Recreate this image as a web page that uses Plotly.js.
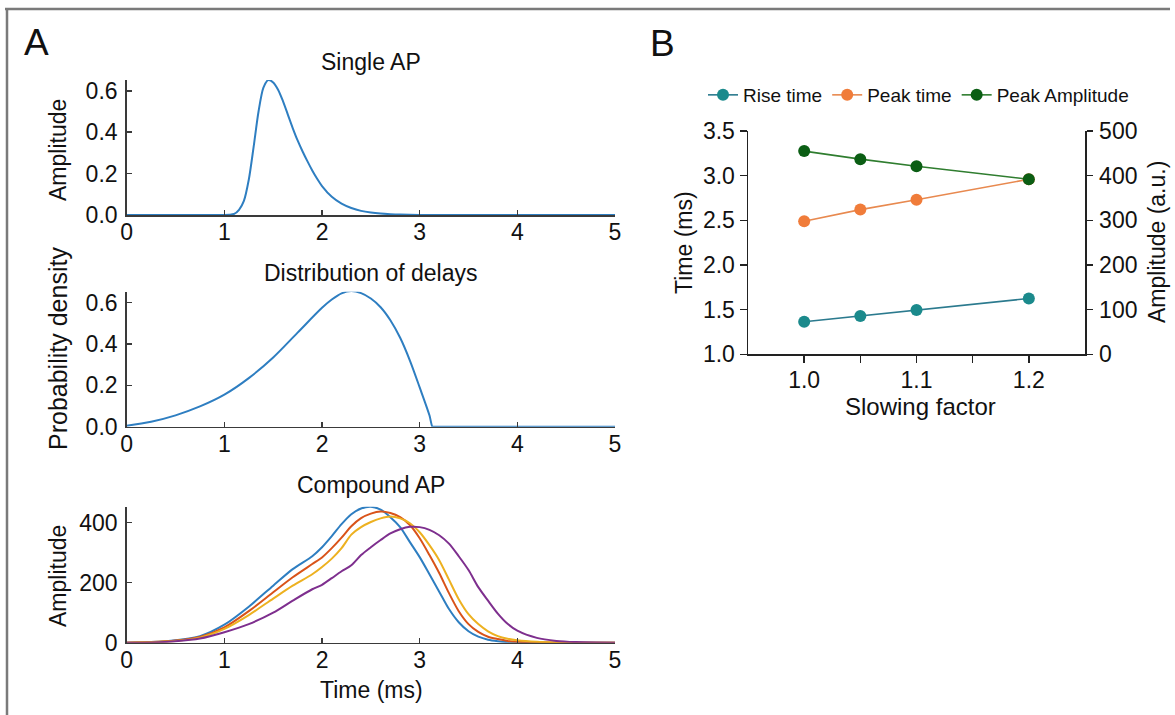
<!DOCTYPE html>
<html>
<head>
<meta charset="utf-8">
<script src="https://cdn.plot.ly/plotly-3.0.1.min.js"></script>
<style>
  html, body { margin: 0; padding: 0; background: #ffffff; }
  #chart { width: 1175px; height: 715px; }
</style>
</head>
<body>
<div id="chart"></div>
<script>
// ---------------- Panel A data ----------------
// Single AP
const singleT   = [0, 0.5, 1.0, 1.05, 1.1, 1.15, 1.2, 1.25, 1.3, 1.35, 1.4, 1.45, 1.5, 1.55, 1.6, 1.65, 1.7, 1.75, 1.8, 1.85, 1.9, 1.95, 2.0, 2.1, 2.2, 2.3, 2.4, 2.5, 2.6, 2.7, 2.8, 3.0, 4.0, 5.0];
const singleAmp = [0, 0, 0, 0.001, 0.005, 0.025, 0.068, 0.17, 0.33, 0.5, 0.615, 0.652, 0.64, 0.605, 0.55, 0.485, 0.42, 0.36, 0.308, 0.26, 0.215, 0.175, 0.14, 0.088, 0.055, 0.034, 0.02, 0.012, 0.007, 0.004, 0.002, 0, 0, 0];

// Distribution of delays
const delayT    = [0, 0.25, 0.5, 0.75, 1.0, 1.25, 1.5, 1.75, 2.0, 2.1, 2.2, 2.3, 2.4, 2.5, 2.6, 2.7, 2.8, 2.9, 3.0, 3.1, 3.13, 3.14, 3.2, 3.3, 4.0, 5.0];
const delayPdf  = [0.005, 0.024, 0.055, 0.098, 0.155, 0.235, 0.335, 0.455, 0.575, 0.615, 0.645, 0.656, 0.646, 0.62, 0.578, 0.515, 0.43, 0.32, 0.19, 0.055, 0, 0, 0, 0, 0, 0];

// Compound AP (four slowing factors)
const compT     = [0, 0.25, 0.5, 0.75, 1.0, 1.25, 1.5, 1.7, 1.9, 2.0, 2.1, 2.2, 2.3, 2.4, 2.5, 2.6, 2.7, 2.8, 2.9, 3.0, 3.1, 3.2, 3.3, 3.4, 3.5, 3.6, 3.7, 3.8, 3.9, 4.0, 4.2, 4.4, 4.6, 4.8, 5.0];
const compBlue  = [0, 2, 8, 22, 60, 120, 190, 245, 288, 318, 355, 395, 428, 447, 453, 443, 418, 385, 335, 285, 228, 170, 112, 68, 38, 20, 10, 5, 2, 1, 0, 0, 0, 0, 0];
const compRed   = [0, 2, 7, 19, 51, 105, 168, 218, 262, 284, 315, 350, 388, 415, 430, 437, 432, 418, 392, 348, 292, 232, 165, 105, 62, 36, 20, 12, 6, 3, 1, 0, 0, 0, 0];
const compYel   = [0, 2, 6, 17, 46, 92, 147, 190, 228, 252, 280, 315, 360, 385, 402, 414, 420, 414, 398, 368, 325, 275, 210, 145, 95, 62, 38, 22, 13, 8, 3, 1, 0, 0, 0];
const compPur   = [0, 1, 5, 14, 35, 62, 100, 140, 178, 193, 215, 238, 258, 292, 318, 342, 364, 378, 386, 385, 376, 358, 330, 288, 242, 185, 140, 97, 63, 40, 16, 6, 2, 0.5, 0];

// ---------------- Panel B data ----------------
const slowing      = [1.0, 1.05, 1.1, 1.2];
const riseTime     = [1.365, 1.43, 1.495, 1.625];
const peakTime     = [2.49, 2.62, 2.73, 2.96];
const peakAmp      = [455, 437, 421, 392];

// tick labels
const timeTicks    = [0, 1, 2, 3, 4, 5];
const ampTicks     = [0, 0.2, 0.4, 0.6];
const compTicks    = [0, 200, 400];
const slowTickVals = [1.0, 1.05, 1.1, 1.15, 1.2];
const slowTickText = ['1.0', '', '1.1', '', '1.2'];
const bTimeTicks   = [1.0, 1.5, 2.0, 2.5, 3.0, 3.5];
const bAmpTicks    = [0, 100, 200, 300, 400, 500];

// ---------------- styling ----------------
const W = 1175, H = 715;
const px = v => v / W;
const py = v => 1 - v / H;
const FONT = 'Liberation Sans, Arial, Helvetica, sans-serif';
const TXT = '#111111';
const AX = '#3a3a3a';
const FS = 23;
const cBlue = '#2e7ec1', cRed = '#d95319', cYel = '#edb120', cPur = '#7e2f8e';

const aLine = (x, y, xa, ya, color, sm) => ({
  x, y, xaxis: xa, yaxis: ya, type: 'scatter', mode: 'lines',
  line: { color, width: 2, shape: 'spline', smoothing: sm || 0.8 },
  showlegend: false, hoverinfo: 'skip', cliponaxis: false
});

const traces = [
  aLine(singleT, singleAmp, 'x', 'y', cBlue),
  aLine(delayT, delayPdf, 'x2', 'y2', cBlue, 0.9),
  aLine(compT, compBlue, 'x3', 'y3', cBlue),
  aLine(compT, compRed, 'x3', 'y3', cRed),
  aLine(compT, compYel, 'x3', 'y3', cYel),
  aLine(compT, compPur, 'x3', 'y3', cPur),
  {
    x: slowing, y: riseTime, xaxis: 'x4', yaxis: 'y4', type: 'scatter', mode: 'lines+markers',
    name: 'Rise time', line: { color: '#2b7a8e', width: 1.6 },
    marker: { color: '#1b8a8c', size: 12 }
  },
  {
    x: slowing, y: peakTime, xaxis: 'x4', yaxis: 'y4', type: 'scatter', mode: 'lines+markers',
    name: 'Peak time', line: { color: '#e8894f', width: 1.6 },
    marker: { color: '#f07c3a', size: 12 }
  },
  {
    x: slowing, y: peakAmp, xaxis: 'x4', yaxis: 'y5', type: 'scatter', mode: 'lines+markers',
    name: 'Peak Amplitude', line: { color: '#2f7d2f', width: 1.6 },
    marker: { color: '#0b5e14', size: 12 }
  }
];

const xDomA = [px(126.7), px(615)];
const aAxisX = (anchor) => ({
  domain: xDomA, range: [0, 5], anchor,
  tickmode: 'array', tickvals: timeTicks, ticktext: timeTicks.map(String),
  ticks: 'inside', ticklen: 5, tickwidth: 1.5, tickcolor: AX,
  showline: true, linecolor: AX, linewidth: 1.5,
  showgrid: false, zeroline: false, ticklabelstandoff: -4,
  tickfont: { family: FONT, size: FS, color: TXT }
});
const aAxisY = (anchor, domain, range, vals, fmt) => ({
  domain, range, anchor,
  tickmode: 'array', tickvals: vals, tickformat: fmt,
  ticks: 'inside', ticklen: 5, tickwidth: 1.5, tickcolor: AX,
  showline: true, linecolor: AX, linewidth: 1.5,
  showgrid: false, zeroline: false, ticklabelstandoff: 3,
  tickfont: { family: FONT, size: FS, color: TXT }
});

const xDomB = [px(748), px(1085)];
const yDomB = [py(354.3), py(131)];
const BK = '#222222';

const layout = {
  width: W, height: H,
  margin: { l: 0, r: 0, t: 0, b: 0, pad: 0 },
  paper_bgcolor: '#ffffff', plot_bgcolor: 'rgba(0,0,0,0)',
  font: { family: FONT, color: TXT },
  showlegend: true,
  legend: {
    orientation: 'h', x: px(703), y: py(95), xanchor: 'left', yanchor: 'middle',
    font: { family: FONT, size: 19, color: TXT },
    bgcolor: 'rgba(0,0,0,0)', itemwidth: 30, traceorder: 'normal'
  },
  xaxis:  aAxisX('y'),
  yaxis:  aAxisY('x',  [py(215), py(80)],    [0, 0.652], ampTicks, '.1f'),
  xaxis2: aAxisX('y2'),
  yaxis2: aAxisY('x2', [py(426.7), py(291.7)], [0, 0.653], ampTicks, '.1f'),
  xaxis3: aAxisX('y3'),
  yaxis3: aAxisY('x3', [py(642.7), py(506.7)], [0, 453], compTicks, 'd'),
  xaxis4: {
    domain: xDomB, range: [0.95, 1.25], anchor: 'y4',
    tickmode: 'array', tickvals: slowTickVals, ticktext: slowTickText,
    ticks: 'outside', ticklen: 7, tickwidth: 1.5, tickcolor: BK,
    showline: true, linecolor: BK, linewidth: 1.5,
    showgrid: false, zeroline: false, ticklabelstandoff: -2,
    tickfont: { family: FONT, size: FS, color: TXT }
  },
  yaxis4: {
    domain: yDomB, range: [1.0, 3.5], anchor: 'x4',
    tickmode: 'array', tickvals: bTimeTicks, tickformat: '.1f',
    ticks: 'outside', ticklen: 7, tickwidth: 1.5, tickcolor: BK,
    showline: true, linecolor: BK, linewidth: 1.5,
    showgrid: false, zeroline: false,
    tickfont: { family: FONT, size: FS, color: TXT }
  },
  yaxis5: {
    overlaying: 'y4', side: 'right', anchor: 'x4', range: [0, 500],
    tickmode: 'array', tickvals: bAmpTicks, tickformat: 'd',
    ticks: 'outside', ticklen: 6, tickwidth: 1.5, tickcolor: BK,
    showline: true, linecolor: BK, linewidth: 1.5,
    showgrid: false, zeroline: false, ticklabelstandoff: 2,
    tickfont: { family: FONT, size: FS, color: TXT }
  },
  yaxis6: {
    overlaying: 'y4', side: 'right', anchor: 'x4', range: [0, 500],
    tickmode: 'array', tickvals: bAmpTicks, showticklabels: false,
    ticks: 'inside', ticklen: 6, tickwidth: 1.5, tickcolor: BK,
    showline: false, showgrid: false, zeroline: false
  },
  shapes: [
    { type: 'line', xref: 'paper', yref: 'paper', x0: px(5), x1: px(1170), y0: py(9), y1: py(9),
      line: { color: '#7a7a7a', width: 2.5 } },
    { type: 'line', xref: 'paper', yref: 'paper', x0: px(7), x1: px(7), y0: py(8), y1: py(715),
      line: { color: '#7a7a7a', width: 2.5 } }
  ],
  annotations: []
};

const ann = (text, x, y, size, angle) => ({
  text, xref: 'paper', yref: 'paper', x: px(x), y: py(y),
  xanchor: 'center', yanchor: 'middle', showarrow: false,
  textangle: angle || 0,
  font: { family: FONT, size, color: TXT }
});
layout.annotations.push(
  ann('A', 36, 42, 37),
  ann('B', 662, 43, 37),
  ann('Single AP', 371, 62, FS),
  ann('Distribution of delays', 371, 273, FS),
  ann('Compound AP', 371, 485, FS),
  ann('Amplitude', 58, 150, FS, -90),
  ann('Probability density', 58, 349, 25, -90),
  ann('Amplitude', 58, 576, FS, -90),
  ann('Time (ms)', 371, 690, FS),
  ann('Time (ms)', 684, 243, FS, -90),
  ann('Amplitude (a.u.)', 1157, 242, FS, -90),
  ann('Slowing factor', 920, 406, 24)
);

Plotly.newPlot('chart', traces, layout, { staticPlot: true, displayModeBar: false });
</script>
</body>
</html>
